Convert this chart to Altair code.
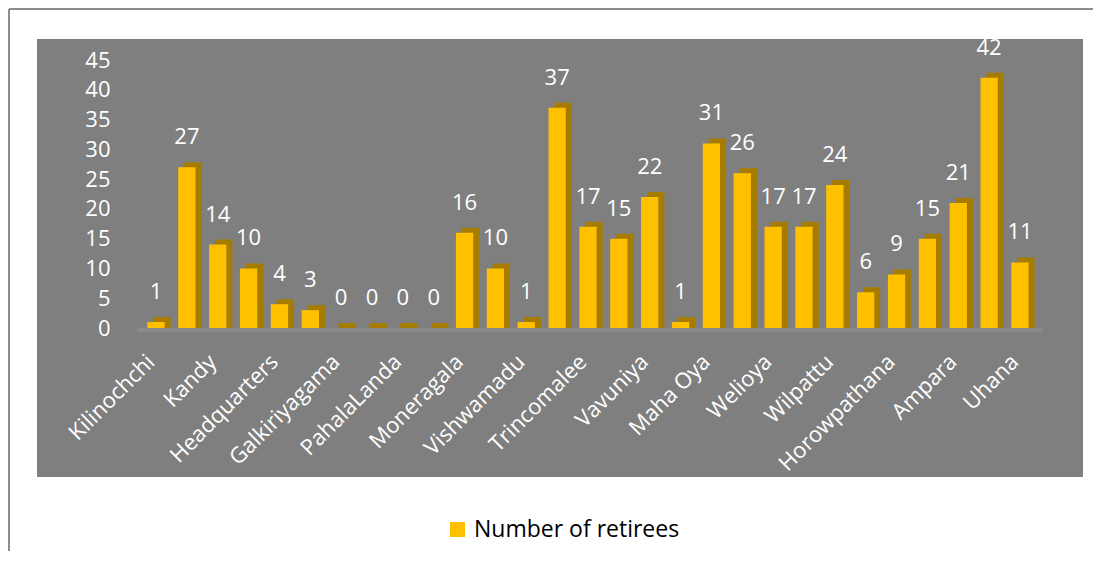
import altair as alt
import pandas as pd

# Values (one bar per office, left to right)
values = [1, 27, 14, 10, 4, 3, 0, 0, 0, 0, 16, 10, 1, 37, 17, 15, 22, 1,
          31, 26, 17, 17, 24, 6, 9, 15, 21, 42, 11]

# Tick labels shown under every other bar
shown_labels = ["Kilinochchi", "Kandy", "Headquarters", "Galkiriyagama",
                "PahalaLanda", "Moneragala", "Vishwamadu", "Trincomalee",
                "Vavuniya", "Maha Oya", "Welioya", "Wilpattu",
                "Horowpathana", "Ampara", "Uhana"]

series_name = "Number of retirees"
y_ticks = [0, 5, 10, 15, 20, 25, 30, 35, 40, 45]

n = len(values)
tick_text = [shown_labels[i // 2] if i % 2 == 0 else "" for i in range(n)]
df = pd.DataFrame({"pos": list(range(n)), "value": values,
                   "series": [series_name] * n})

label_expr = "[" + ",".join("'" + t + "'" for t in tick_text) + "][datum.value]"

FONT = "Open Sans"
GOLD = "#FFC000"
DARK = "#A67C00"

xscale = alt.Scale(domain=list(range(n)), range=[103.6, 998.4],
                   paddingInner=0.44, paddingOuter=0.22)
yscale = alt.Scale(domain=[0, 45], range=[289, 21], nice=False)

X = alt.X("pos:O", scale=xscale, title=None,
          axis=alt.Axis(labelExpr=label_expr, labelAngle=315,
                        labelAlign="right", labelBaseline="middle",
                        domain=False, ticks=False, grid=False,
                        labelColor="white", labelFont=FONT,
                        labelFontSize=22, offset=-149, labelPadding=30,
                        labelOffset=-5, labelOverlap=False,
                        labelLimit=0))
Y = alt.Y("value:Q", scale=yscale, title=None, stack=None,
          axis=alt.Axis(values=y_ticks, domain=False, ticks=False,
                        grid=False, labelColor="white", labelFont=FONT,
                        labelFontSize=22, offset=-77, labelPadding=4))

base = alt.Chart(df)

side = base.mark_bar(color=DARK, xOffset=6, x2Offset=6, yOffset=-5,
                     y2Offset=0.001).encode(x=X, y=Y)

front = base.mark_bar().encode(
    x=X, y=Y,
    color=alt.Color("series:N", scale=alt.Scale(range=[GOLD]),
                    legend=alt.Legend(orient="none", legendX=409,
                                      legendY=479, title=None,
                                      symbolType="square", symbolSize=225,
                                      symbolStrokeWidth=0, labelFontSize=23,
                                      labelColor="black", labelFont=FONT,
                                      labelOffset=5, padding=0,
                                      labelLimit=0)),
)

labels = base.mark_text(color="white", font=FONT, fontSize=22, dy=-30,
                        baseline="middle", clip=True).encode(
    x=X, y=Y, text=alt.Text("value:Q"),
)

floor = alt.Chart(df).mark_rule(color="#8a8a8a", strokeWidth=3).encode(
    x=alt.value(100), x2=alt.value(1006), y=alt.value(291)
)

border_top = alt.Chart(df).mark_rule(color="#8c8c8c", strokeWidth=2).encode(
    x=alt.value(-28), x2=alt.value(1080), y=alt.value(-30)
)
border_left = alt.Chart(df).mark_rule(color="#8c8c8c", strokeWidth=2).encode(
    x=alt.value(-28), y=alt.value(-30), y2=alt.value(520)
)

chart = alt.layer(floor, side, front, labels, border_top, border_left).properties(
    width=1046, height=438,
    padding={"left": 29, "top": 31, "right": 10, "bottom": 74},
    autosize="none", background="white",
).configure_view(fill="#7F7F7F", strokeWidth=0)

chart.save("out.html", embed_options={"renderer": "svg", "actions": False})
